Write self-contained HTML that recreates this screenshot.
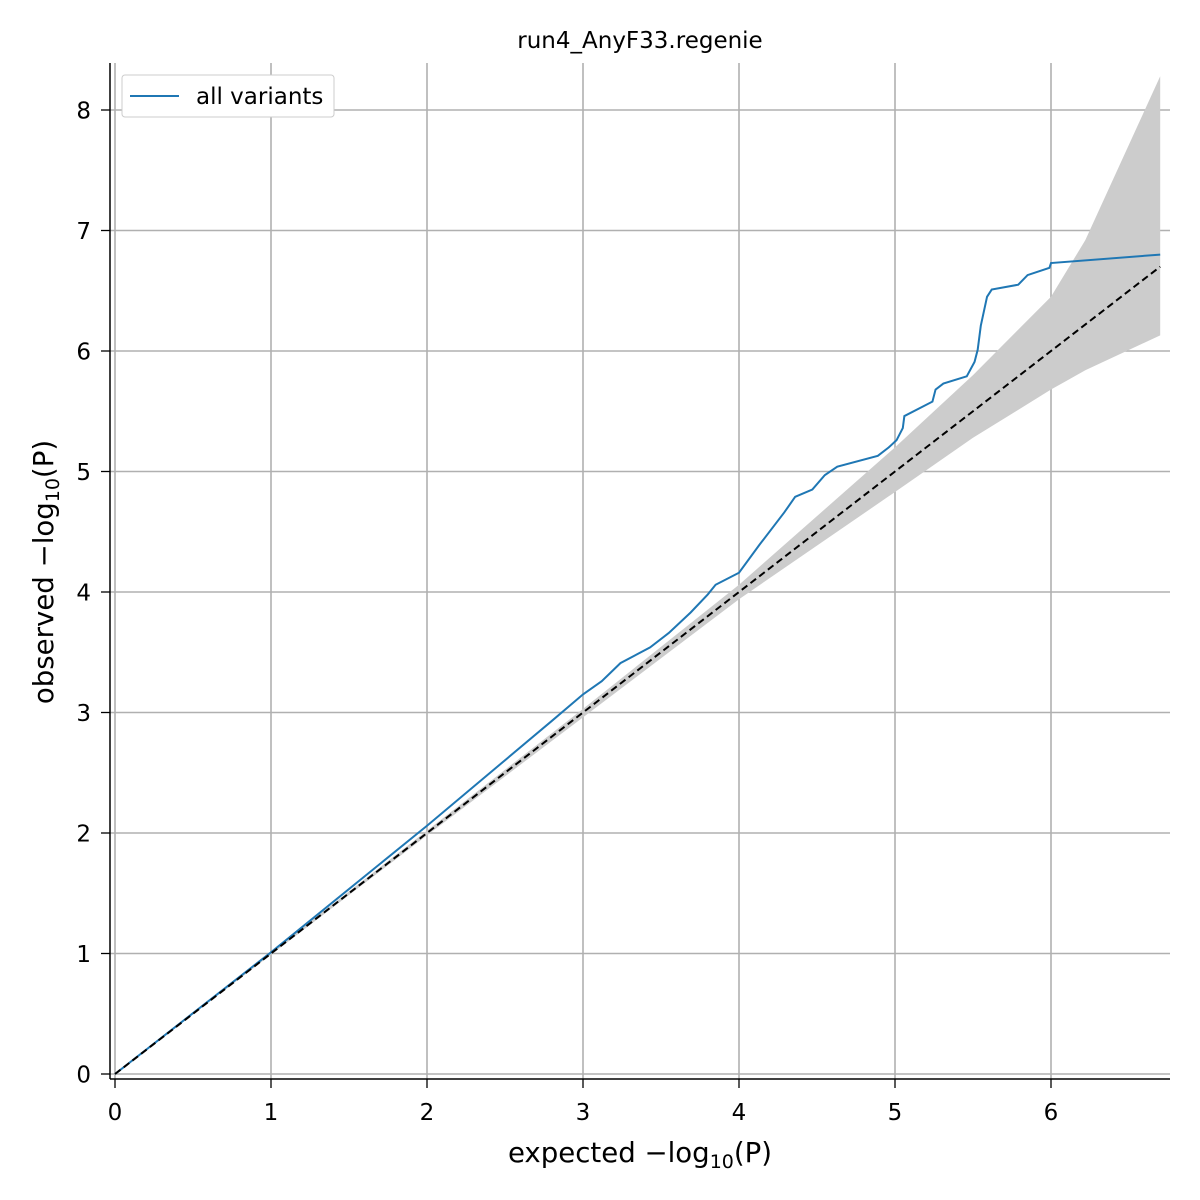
<!DOCTYPE html>
<html><head><meta charset="utf-8"><style>body{margin:0;background:#fff}svg{display:block;font-family:"DejaVu Sans","Liberation Sans",sans-serif}</style></head>
<body>
<svg id="chart" width="1200" height="1200" xmlns="http://www.w3.org/2000/svg">
<text x="640" y="48" font-size="23" text-anchor="middle">run4_AnyF33.regenie</text>
<g id="grid"></g><g id="band"></g><g id="lines"></g><g id="axes"></g>
<g>
<rect x="122" y="75" width="212" height="42" rx="3" fill="#fff" stroke="#ccc"/>
<line x1="130" y1="96" x2="179" y2="96" stroke="#1f77b4" stroke-width="2"/>
<text x="196" y="104" font-size="23">all variants</text>
</g>
<text x="640" y="1162" font-size="27.6" text-anchor="middle">expected −log<tspan font-size="19" dy="6">10</tspan><tspan dy="-6">(P)</tspan></text>
<text transform="translate(53,572) rotate(-90)" font-size="27.6" text-anchor="middle">observed −log<tspan font-size="19" dy="6">10</tspan><tspan dy="-6">(P)</tspan></text>
</svg>
<script>
const xTicks=[0,1,2,3,4,5,6];
const yTicks=[0,1,2,3,4,5,6,7,8];
const obsX=[0,1,2,2.8,3,3.12,3.24,3.43,3.55,3.69,3.8,3.85,4,4.13,4.29,4.36,4.47,4.55,4.63,4.89,4.96,5.01,5.05,5.06,5.24,5.26,5.31,5.46,5.51,5.53,5.55,5.59,5.62,5.79,5.85,5.99,6,6.7];
const obsY=[0,1.01,2.06,2.93,3.15,3.26,3.41,3.54,3.66,3.83,3.98,4.06,4.16,4.39,4.66,4.79,4.85,4.97,5.04,5.13,5.2,5.26,5.36,5.46,5.58,5.68,5.73,5.79,5.91,6.01,6.21,6.45,6.51,6.55,6.63,6.69,6.73,6.8];
const bandX=[0,1,2,3,4,5,5.5,6,6.22,6.7];
const bandUpper=[0,1.01,2.02,3.03,4.06,5.2,5.8,6.45,6.92,8.28];
const bandLower=[0,0.99,1.98,2.96,3.94,4.83,5.28,5.68,5.84,6.13];
const X=v=>115+v*156, Y=v=>1074-v*120.5;
const NS='http://www.w3.org/2000/svg';
function mk(p,t,a){const e=document.createElementNS(NS,t);for(const k in a)e.setAttribute(k,a[k]);document.getElementById(p).appendChild(e);return e;}
xTicks.forEach(t=>{const l=mk('grid','line',{x1:X(t),x2:X(t),y1:63,y2:1079,stroke:'#b0b0b0','stroke-width':1.6});


mk('axes','line',{x1:X(t),x2:X(t),y1:1079,y2:1088,stroke:'#000','stroke-width':1.3});
const tx=mk('axes','text',{x:X(t),y:1120,'font-size':23,'text-anchor':'middle'});tx.textContent=t;

});
yTicks.forEach(t=>{const l=mk('grid','line',{x1:110,x2:1170,y1:Y(t),y2:Y(t),stroke:'#b0b0b0','stroke-width':1.6});


mk('axes','line',{x1:101,x2:110,y1:Y(t),y2:Y(t),stroke:'#000','stroke-width':1.3});
const tx=mk('axes','text',{x:91,y:Y(t)+8.5,'font-size':23,'text-anchor':'end'});tx.textContent=t;

});
let d=bandX.map((x,i)=>(i?'L':'M')+X(x)+','+Y(bandUpper[i])).join('');
for(let i=bandX.length-1;i>=0;i--)d+='L'+X(bandX[i])+','+Y(bandLower[i]);
const b=mk('band','path',{d:d+'Z',fill:'#cccccc'});


const o=mk('lines','path',{d:obsX.map((x,i)=>(i?'L':'M')+X(x)+','+Y(obsY[i])).join(''),fill:'none',stroke:'#1f77b4','stroke-width':2});


const r=mk('lines','line',{x1:X(0),y1:Y(0),x2:X(6.7),y2:Y(6.7),stroke:'#000','stroke-width':2,'stroke-dasharray':'7,4'});


const sl=mk('axes','line',{x1:110,x2:110,y1:63,y2:1079,stroke:'#000','stroke-width':1.5});


const sb=mk('axes','line',{x1:110,x2:1170,y1:1079,y2:1079,stroke:'#000','stroke-width':1.5});


</script>
</body></html>
